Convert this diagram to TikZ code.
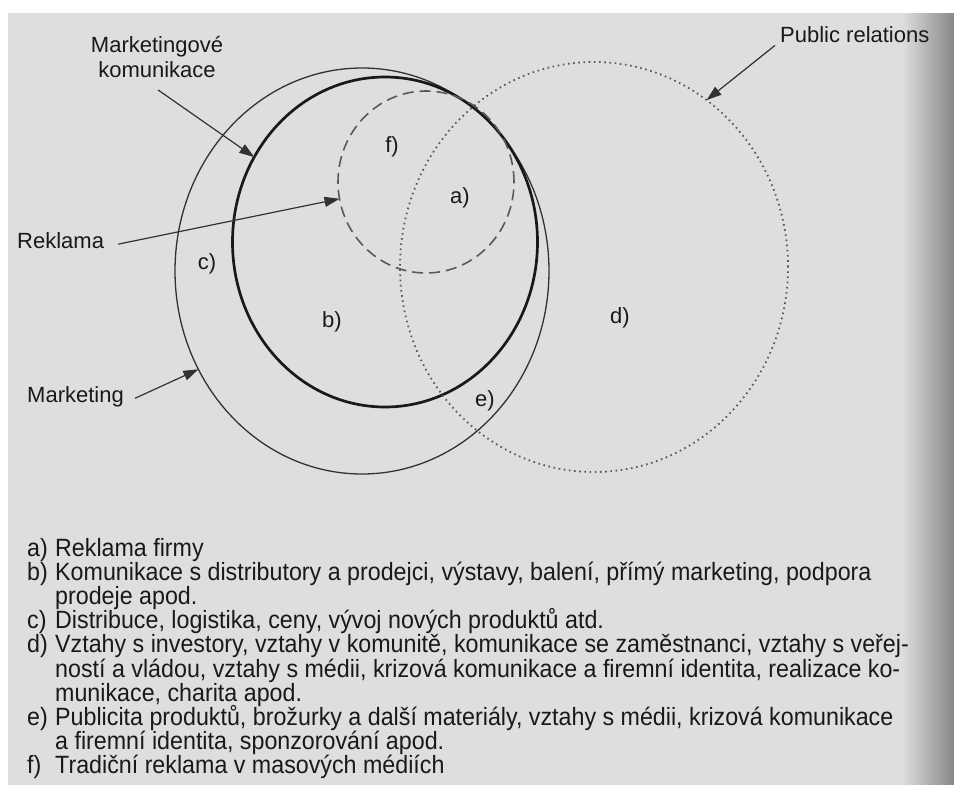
\documentclass[tikz,border=0pt]{standalone}
\usepackage{fontspec}
\setmainfont{Liberation Sans}
\newfontfamily\legfont[FakeStretch=0.93]{Liberation Sans}
\usetikzlibrary{shapes.geometric,arrows.meta}
\definecolor{pagegray}{RGB}{222,222,220}
\definecolor{edgegray}{RGB}{135,135,135}
\definecolor{ink}{RGB}{25,25,25}
\definecolor{linegray}{RGB}{50,50,50}
\tikzset{
  ring/.style={ellipse, inner sep=0pt, outer sep=0pt},
  lbl/.style={inner sep=0pt, text=ink, font=\fontsize{22}{25}\selectfont},
  reg/.style={inner sep=0pt, text=ink, font=\fontsize{22}{25}\selectfont},
  leg/.style={inner sep=0pt, anchor=base west, text=ink, font=\legfont\fontsize{25}{24}\selectfont},
  pointer/.style={draw=linegray, line width=1.2pt, -{Triangle[length=15pt,width=10pt]}},
}
\begin{document}
\begin{tikzpicture}[x=1pt,y=-1pt]
\useasboundingbox (0,0) rectangle (954,785);
\fill[white] (0,0) rectangle (954,785);
\fill[pagegray] (8,13) rectangle (954,785);
\shade[left color=pagegray, right color=edgegray, shading angle=90] (902,13) rectangle (954,785);

% circles
\node[ring, draw=linegray, line width=1.3pt, minimum width=374pt, minimum height=406pt] (mkt) at (362,271) {};
\node[ring, draw=black!90, line width=2.7pt, minimum width=305pt, minimum height=330pt] (mkom) at (385,242) {};
\node[ring, draw=black!65, line width=1.6pt, dash pattern=on 11pt off 6pt, minimum width=176pt, minimum height=182pt] (rek) at (426,182) {};
\node[ring, draw=black!65, line width=1.8pt, dash pattern=on 1.6pt off 3.6pt, minimum width=388pt, minimum height=410pt] (pr) at (594,267) {};

% region letters
\node[reg] (ra) at (460,198) {a)};
\node[reg] (rb) at (332,322) {b)};
\node[reg] (rc) at (207,264) {c)};
\node[reg] (rd) at (620,318) {d)};
\node[reg] (re) at (485,401) {e)};
\node[reg] (rf) at (392,147) {f)};

% outside labels
\node[lbl, align=center] (lmkom) at (157,57) {Marketingové\\komunikace};
\node[lbl, anchor=base west] (lrek) at (17,248) {Reklama};
\node[lbl, anchor=base west] (lmkt) at (27,402) {Marketing};
\node[lbl, anchor=base west] (lpr) at (780,42) {Public relations};

% pointers
\draw[pointer] ([xshift=1pt,yshift=-12pt]lmkom.south) -- (mkom.147);
\draw[pointer] ([xshift=14pt,yshift=-4pt]lrek.east) -- (rek.191);
\draw[pointer] ([xshift=11pt,yshift=-2pt]lmkt.east) -- (mkt.211);
\draw[pointer] ([xshift=-5pt,yshift=-3pt]lpr.south west) -- (pr.56);

% legend
\node[leg] (ka) at (27,556) {a)};   \node[leg] (ta) at (55,556) {Reklama firmy};
\node[leg] (kb) at (27,580.2) {b)}; \node[leg] (tb) at (55,580.2) {Komunikace s distributory a prodejci, výstavy, balení, přímý marketing, podpora};
\node[leg] (tb2) at (55,604.4) {prodeje apod.};
\node[leg] (kc) at (27,628.6) {c)}; \node[leg] (tc) at (55,628.6) {Distribuce, logistika, ceny, vývoj nových produktů atd.};
\node[leg] (kd) at (27,652.8) {d)};   \node[leg] (td) at (55,652.8) {Vztahy s investory, vztahy v komunitě, komunikace se zaměstnanci, vztahy s veřej-};
\node[leg] (td2) at (55,677) {ností a vládou, vztahy s médii, krizová komunikace a firemní identita, realizace ko-};
\node[leg] (td3) at (55,701.2) {munikace, charita apod.};
\node[leg] (ke) at (27,725.4) {e)}; \node[leg] (te) at (55,725.4) {Publicita produktů, brožurky a další materiály, vztahy s médii, krizová komunikace};
\node[leg] (te2) at (55,749.6) {a firemní identita, sponzorování apod.};
\node[leg] (kf) at (27,773.8) {f)};  \node[leg] (tf) at (55,773.8) {Tradiční reklama v masových médiích};
\end{tikzpicture}
\end{document}
